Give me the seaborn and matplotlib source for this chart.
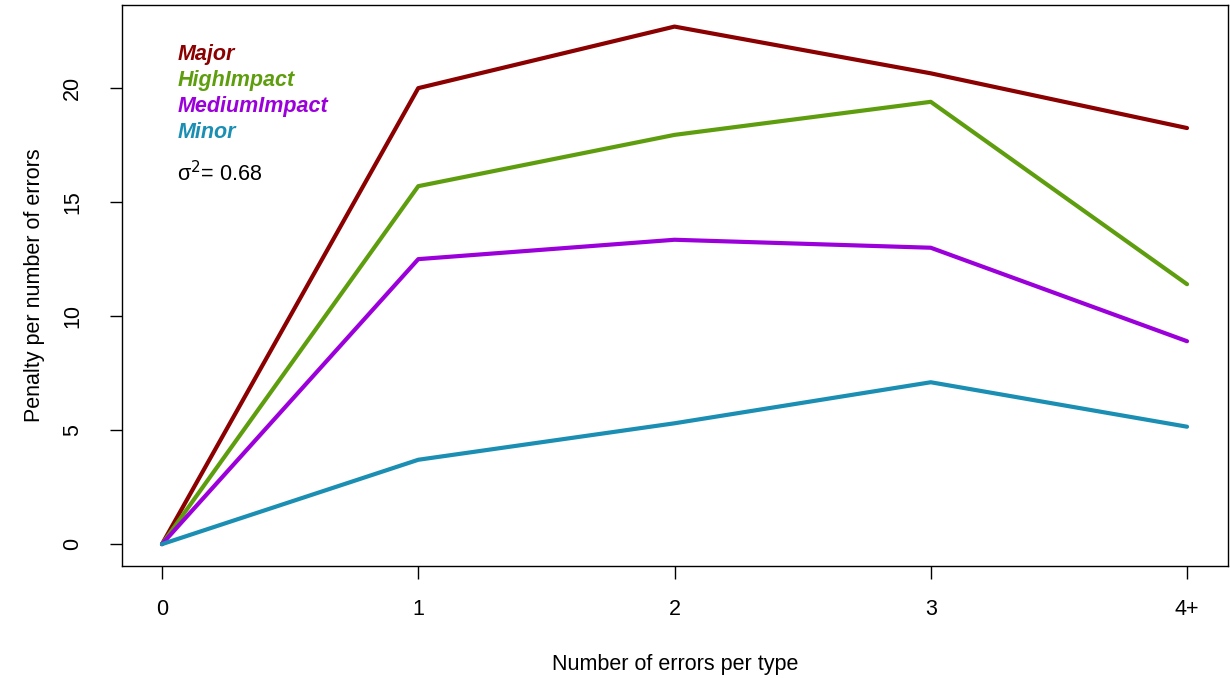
import pandas as pd
import matplotlib
matplotlib.use("Agg")
import matplotlib.pyplot as plt
import seaborn as sns

# values
x_labels = ["0", "1", "2", "3", "4+"]
major = [0, 20.0, 22.7, 20.65, 18.25]
high_impact = [0, 15.7, 17.95, 19.4, 11.4]
medium_impact = [0, 12.5, 13.35, 13.0, 8.9]
minor = [0, 3.7, 5.3, 7.1, 5.15]

series_names = ["Major", "HighImpact", "MediumImpact", "Minor"]
series_colors = ["#8B0000", "#5E9E0E", "#9B00DB", "#1A8FB3"]

rows = []
for name, vals in zip(series_names, [major, high_impact, medium_impact, minor]):
    for i, v in enumerate(vals):
        rows.append({"x": i, "penalty": v, "type": name})
df = pd.DataFrame(rows)

sns.set_style("white")
plt.rcParams["font.family"] = ["Liberation Sans", "DejaVu Sans"]
plt.rcParams["text.color"] = "black"
plt.rcParams["axes.labelcolor"] = "black"
plt.rcParams["xtick.color"] = "black"
plt.rcParams["ytick.color"] = "black"

fig = plt.figure(figsize=(12.3, 6.78), dpi=100)
ax = fig.add_axes([0.0992, 0.165, 0.8992, 0.8274])

sns.lineplot(data=df, x="x", y="penalty", hue="type", palette=series_colors,
             hue_order=series_names, linewidth=3, legend=False, ax=ax)

ax.set_xlim(-0.156, 4.16)
ax.set_ylim(-0.965, 23.64)
ax.set_xticks(range(len(x_labels)))
ax.set_xticklabels(x_labels)
ax.set_yticks([0, 5, 10, 15, 20])
ax.set_yticklabels(["0", "5", "10", "15", "20"], rotation=90, va="center")
ax.tick_params(axis="both", direction="out", length=9, width=1,
               labelsize=15.5, left=True, bottom=True)
ax.tick_params(axis="x", pad=15)
ax.tick_params(axis="y", pad=19)
for s in ax.spines.values():
    s.set_color("black")
    s.set_linewidth(1)

ax.set_xlabel("Number of errors per type", fontsize=15.5, labelpad=24)
ax.set_ylabel("Penalty per number of errors", fontsize=15.5, labelpad=12)

# legend-like text in the corner
for i, (name, col) in enumerate(zip(series_names, series_colors)):
    ax.text(0.05, 0.912 - i * 0.0465, name, transform=ax.transAxes, color=col,
            fontsize=15.5, fontweight="bold", fontstyle="italic", va="center")
ax.text(0.05, 0.70, "σ$^{2}$= 0.68", transform=ax.transAxes, fontsize=15.5,
        va="center")

fig.savefig("out.png", dpi=100)
